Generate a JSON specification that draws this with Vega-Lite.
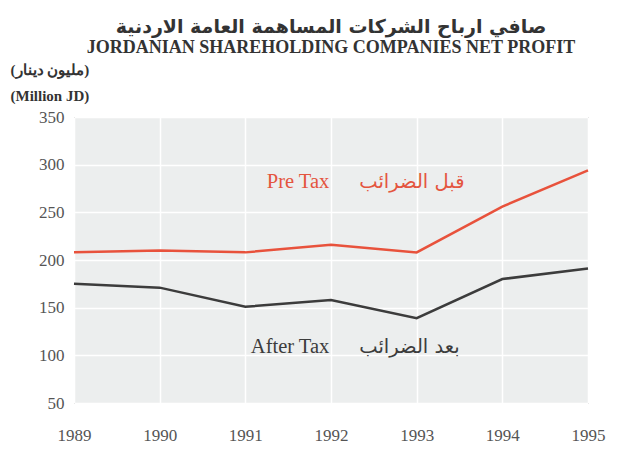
{
  "$schema": "https://vega.github.io/schema/vega-lite/v6.json",
  "width": 514,
  "height": 286,
  "autosize": {"type": "none"},
  "padding": {"left": 74, "top": 117, "right": 50, "bottom": 62},
  "background": "white",
  "title": {
    "text": "صافي ارباح الشركات المساهمة العامة الاردنية",
    "subtitle": "JORDANIAN SHAREHOLDING COMPANIES NET PROFIT",
    "anchor": "middle",
    "font": "DejaVu Sans",
    "fontSize": 19,
    "fontWeight": "bold",
    "color": "#333333",
    "subtitleFont": "Liberation Serif",
    "subtitleFontSize": 18,
    "subtitleFontWeight": "bold",
    "subtitleColor": "#333333",
    "subtitlePadding": 2,
    "offset": 5,
    "dx": 0
  },
  "config": {
    "view": {"fill": "#eceeee", "stroke": "#8a8a8a", "strokeWidth": 1},
    "axis": {
      "labelFont": "Liberation Serif",
      "labelFontSize": 17,
      "labelColor": "#555555",
      "grid": true,
      "gridColor": "#ffffff",
      "gridWidth": 1.5,
      "ticks": false,
      "domain": false
    }
  },
  "data": {
    "values": [
      {"year": 1989, "series": "Pre Tax", "value": 208},
      {"year": 1990, "series": "Pre Tax", "value": 210},
      {"year": 1991, "series": "Pre Tax", "value": 208},
      {"year": 1992, "series": "Pre Tax", "value": 216},
      {"year": 1993, "series": "Pre Tax", "value": 208},
      {"year": 1994, "series": "Pre Tax", "value": 256},
      {"year": 1995, "series": "Pre Tax", "value": 294},
      {"year": 1989, "series": "After Tax", "value": 175},
      {"year": 1990, "series": "After Tax", "value": 171},
      {"year": 1991, "series": "After Tax", "value": 151},
      {"year": 1992, "series": "After Tax", "value": 158},
      {"year": 1993, "series": "After Tax", "value": 139},
      {"year": 1994, "series": "After Tax", "value": 180},
      {"year": 1995, "series": "After Tax", "value": 191}
    ]
  },
  "layer": [
    {
      "mark": {"type": "line", "strokeWidth": 2.5},
      "encoding": {
        "x": {
          "field": "year",
          "type": "quantitative",
          "scale": {"domain": [1989, 1995], "nice": false, "zero": false},
          "axis": {"values": [1989, 1990, 1991, 1992, 1993, 1994, 1995], "format": "d", "title": null, "labelPadding": 24, "labelFlush": false}
        },
        "y": {
          "field": "value",
          "type": "quantitative",
          "scale": {"domain": [50, 350], "nice": false, "zero": false},
          "axis": {
            "values": [50, 100, 150, 200, 250, 300, 350],
            "labelPadding": 10,
            "labelFlush": false,
            "title": ["(مليون دينار)", "(Million JD)"],
            "titleAngle": 0,
            "titleAlign": "left",
            "titleBaseline": "top",
            "titleX": -64,
            "titleY": -55,
            "titleFont": "Liberation Serif",
            "titleFontSize": 15,
            "titleFontWeight": "bold",
            "titleColor": "#333333",
            "titleLineHeight": 26
          }
        },
        "color": {
          "field": "series",
          "type": "nominal",
          "scale": {"domain": ["Pre Tax", "After Tax"], "range": ["#e8523c", "#3c3c3c"]},
          "legend": null
        }
      }
    },
    {
      "data": {"values": [{"label": "Pre Tax"}]},
      "mark": {"type": "text", "font": "Liberation Serif", "fontSize": 20.5, "fill": "#e4553f", "align": "right", "baseline": "middle"},
      "encoding": {"x": {"datum": 1991.98}, "y": {"datum": 282}, "text": {"field": "label"}}
    },
    {
      "data": {"values": [{"label": "قبل الضرائب"}]},
      "mark": {"type": "text", "font": "DejaVu Sans", "fontSize": 19.5, "fill": "#e4553f", "align": "left", "baseline": "middle"},
      "encoding": {"x": {"datum": 1992.33}, "y": {"datum": 282}, "text": {"field": "label"}}
    },
    {
      "data": {"values": [{"label": "After Tax"}]},
      "mark": {"type": "text", "font": "Liberation Serif", "fontSize": 20.5, "fill": "#3c3c3c", "align": "right", "baseline": "middle"},
      "encoding": {"x": {"datum": 1991.98}, "y": {"datum": 109}, "text": {"field": "label"}}
    },
    {
      "data": {"values": [{"label": "بعد الضرائب"}]},
      "mark": {"type": "text", "font": "DejaVu Sans", "fontSize": 19.5, "fill": "#3c3c3c", "align": "left", "baseline": "middle"},
      "encoding": {"x": {"datum": 1992.33}, "y": {"datum": 109}, "text": {"field": "label"}}
    }
  ]
}
